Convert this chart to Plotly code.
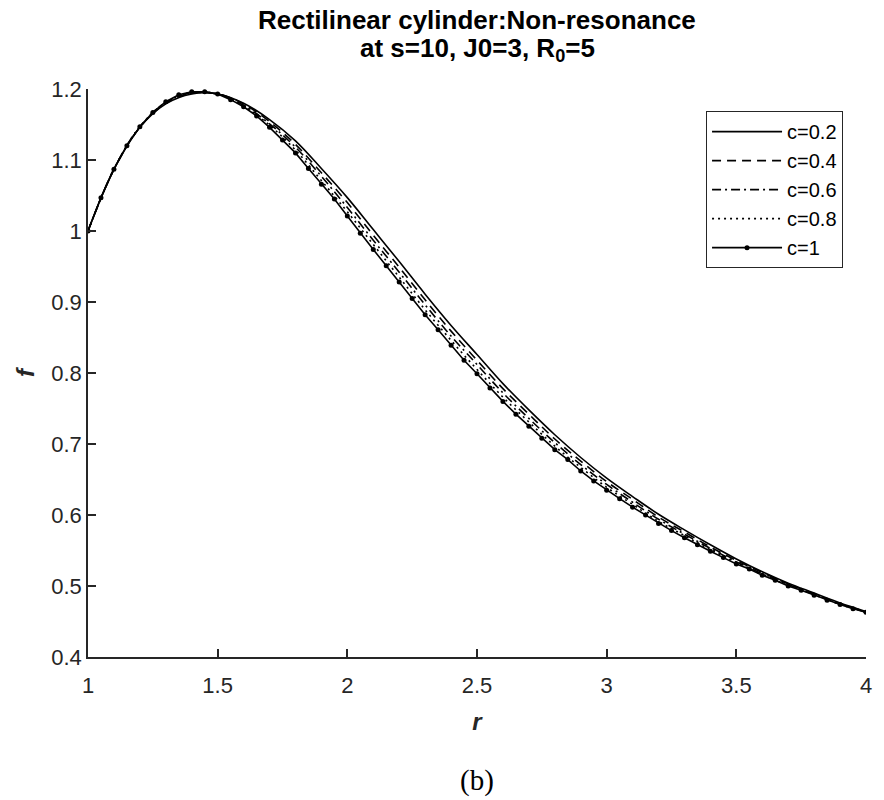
import plotly.graph_objects as go

# ---- data ----
r_fine = [round(1.0 + 0.05 * i, 2) for i in range(61)]
f_c10 = [1.000, 1.047, 1.087, 1.120, 1.147, 1.167, 1.182, 1.192, 1.196, 1.196,
         1.193, 1.185, 1.175, 1.162, 1.146, 1.128, 1.110, 1.088, 1.066, 1.045,
         1.021, 0.997, 0.974, 0.951, 0.928, 0.905, 0.882, 0.861, 0.839, 0.818,
         0.799, 0.779, 0.760, 0.742, 0.725, 0.708, 0.692, 0.678, 0.662, 0.648,
         0.635, 0.623, 0.611, 0.600, 0.588, 0.578, 0.568, 0.558, 0.549, 0.540,
         0.531, 0.524, 0.515, 0.508, 0.500, 0.494, 0.487, 0.480, 0.474, 0.468,
         0.463]

r_coarse = [round(1.0 + 0.1 * i, 1) for i in range(31)]
f_c02 = [1.000, 1.087, 1.146, 1.179, 1.193, 1.193, 1.180, 1.157, 1.127, 1.088,
         1.047, 1.002, 0.957, 0.911, 0.867, 0.826, 0.785, 0.748, 0.713, 0.681,
         0.652, 0.626, 0.601, 0.579, 0.558, 0.538, 0.520, 0.504, 0.490, 0.476,
         0.464]
f_c04 = [1.000, 1.087, 1.146, 1.180, 1.194, 1.193, 1.179, 1.154, 1.122, 1.082,
         1.040, 0.994, 0.949, 0.903, 0.859, 0.818, 0.778, 0.742, 0.707, 0.676,
         0.647, 0.622, 0.597, 0.576, 0.555, 0.536, 0.519, 0.503, 0.489, 0.475,
         0.464]
f_c06 = [1.000, 1.087, 1.147, 1.181, 1.195, 1.193, 1.177, 1.151, 1.118, 1.077,
         1.033, 0.987, 0.942, 0.896, 0.852, 0.812, 0.772, 0.736, 0.702, 0.671,
         0.643, 0.618, 0.594, 0.573, 0.553, 0.534, 0.517, 0.502, 0.488, 0.475,
         0.463]
f_c08 = [1.000, 1.087, 1.147, 1.181, 1.195, 1.193, 1.176, 1.149, 1.114, 1.071,
         1.027, 0.981, 0.935, 0.889, 0.846, 0.805, 0.766, 0.731, 0.697, 0.667,
         0.639, 0.615, 0.591, 0.571, 0.551, 0.533, 0.516, 0.501, 0.488, 0.474,
         0.463]

labels = ["c=0.2", "c=0.4", "c=0.6", "c=0.8", "c=1"]
x_ticks = [1, 1.5, 2, 2.5, 3, 3.5, 4]
x_ticktext = ["1", "1.5", "2", "2.5", "3", "3.5", "4"]
y_ticks = [0.4, 0.5, 0.6, 0.7, 0.8, 0.9, 1.0, 1.1, 1.2]
y_ticktext = ["0.4", "0.5", "0.6", "0.7", "0.8", "0.9", "1", "1.1", "1.2"]

FONT = "Liberation Sans, Arial, Helvetica, sans-serif"
INK = "#262626"

fig = go.Figure()
styles = [("solid", f_c02), ("9px,6px", f_c04), ("9px,4px,2px,4px", f_c06), ("2px,4px", f_c08)]
for (dash, ys), name in zip(styles, labels[:4]):
    fig.add_trace(go.Scatter(x=r_coarse, y=ys, mode="lines", name=name,
                             line=dict(color="black", width=1.6, dash=dash, shape="spline")))
fig.add_trace(go.Scatter(x=r_fine, y=f_c10, mode="lines+markers", name=labels[4],
                         line=dict(color="black", width=1.6),
                         marker=dict(color="black", size=5, symbol="circle")))

fig.update_layout(
    width=884, height=800,
    margin=dict(l=88, r=16, t=89, b=143),
    paper_bgcolor="white", plot_bgcolor="white",
    font=dict(family=FONT, size=22, color=INK),
    showlegend=True,
    legend=dict(x=0.9705, y=0.961, xanchor="right", yanchor="top",
                bgcolor="white", bordercolor=INK, borderwidth=1,
                itemwidth=70,
                font=dict(family=FONT, size=20, color="black")),
    xaxis=dict(range=[1, 4], tickvals=x_ticks, ticktext=x_ticktext,
               showgrid=False, zeroline=False, showline=True, linecolor=INK, linewidth=1.5,
               ticks="inside", ticklen=8, tickcolor=INK, tickwidth=1.5,
               ticklabelstandoff=8,
               title=dict(text="<b><i>r</i></b>", font=dict(family=FONT, size=24, color=INK), standoff=16)),
    yaxis=dict(range=[0.4, 1.2], tickvals=y_ticks, ticktext=y_ticktext,
               showgrid=False, zeroline=False, showline=True, linecolor=INK, linewidth=1.5,
               ticks="inside", ticklen=8, tickcolor=INK, tickwidth=1.5,
               title=dict(text="<b><i>f</i></b>", font=dict(family=FONT, size=24, color=INK), standoff=10)),
)

fig.add_annotation(text="<b>Rectilinear cylinder:Non-resonance</b>", xref="paper", yref="paper",
                   x=0.5, y=(657 - 20) / 568, xanchor="center", yanchor="middle", showarrow=False,
                   font=dict(family=FONT, size=26, color="black"))
fig.add_annotation(text="<b>at s=10, J0=3, R<sub>0</sub>=5</b>", xref="paper", yref="paper",
                   x=0.5, y=(657 - 49) / 568, xanchor="center", yanchor="middle", showarrow=False,
                   font=dict(family=FONT, size=26, color="black"))
fig.add_annotation(text="(b)", xref="paper", yref="paper",
                   x=0.5, y=(657 - 780) / 568, xanchor="center", yanchor="middle", showarrow=False,
                   font=dict(family="Liberation Serif, Times New Roman, serif", size=29, color="black"))

fig.write_html("out.html")
